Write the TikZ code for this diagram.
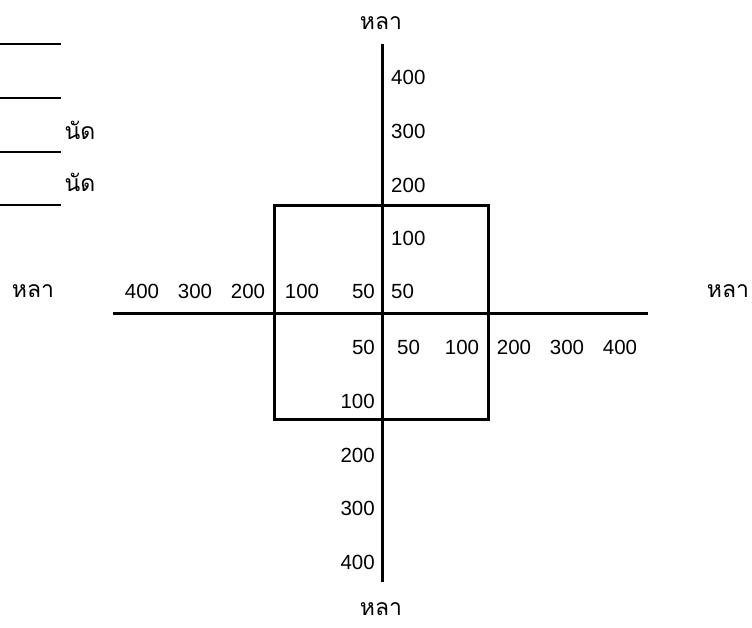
\documentclass[tikz,border=0pt]{standalone}
\usepackage{fontspec}
\setmainfont{Liberation Sans}
\newfontfamily\thaifont[Script=Thai]{Loma}
\tikzset{
  num/.style={inner sep=0pt,font=\fontsize{20.5}{20.5}\selectfont},
  unit/.style={inner sep=0pt,font=\thaifont\fontsize{23}{23}\selectfont},
  axis/.style={line width=3pt},
  blank/.style={line width=1.5pt}
}
\begin{document}
\begin{tikzpicture}[x=1pt,y=-1pt]
\useasboundingbox (0,0) rectangle (752,627);
% answer lines top left
\foreach \i/\y in {1/44,2/98,3/152,4/205}
  \path (0,\y) coordinate (b\i a) -- (61,\y) coordinate (b\i b);
\foreach \i in {1,...,4} \draw[blank] (b\i a) -- (b\i b);
\node[unit] (shot1) at (80,130) {นัด};
\node[unit] (shot2) at (80,182) {นัด};
% axes and square
\path (382,44) coordinate (vtop) (382,582) coordinate (vbot)
      (113,313) coordinate (hleft) (648,313) coordinate (hright)
      (274,205) coordinate (sqa) (488,419) coordinate (sqb);
\draw[axis] (vtop) -- (vbot);
\draw[axis] (hleft) -- (hright);
\draw[axis] (sqa) rectangle (sqb);
% units
\node[unit] (ytop) at (381,23) {หลา};
\node[unit] (ybot) at (381,609) {หลา};
\node[unit] (xleft) at (33,291) {หลา};
\node[unit] (xright) at (728,291) {หลา};
% distances up
\foreach \v/\y in {400/77,300/131,200/185,100/238,50/291}
  \node[num,anchor=west] (up\v) at (391,\y) {\v};
% distances down
\foreach \v/\y in {50/347,100/401,200/455,300/508,400/562}
  \node[num,anchor=east] (dn\v) at (375,\y) {\v};
% distances left
\foreach \v/\x in {400/142,300/195,200/248,100/302}
  \node[num] (lf\v) at (\x,291) {\v};
\node[num,anchor=east] (lf50) at (375,291) {50};
% distances right
\foreach \v/\x in {100/462,200/514,300/567,400/620}
  \node[num] (rt\v) at (\x,347) {\v};
\node[num,anchor=west] (rt50) at (397,347) {50};
\end{tikzpicture}
\end{document}
